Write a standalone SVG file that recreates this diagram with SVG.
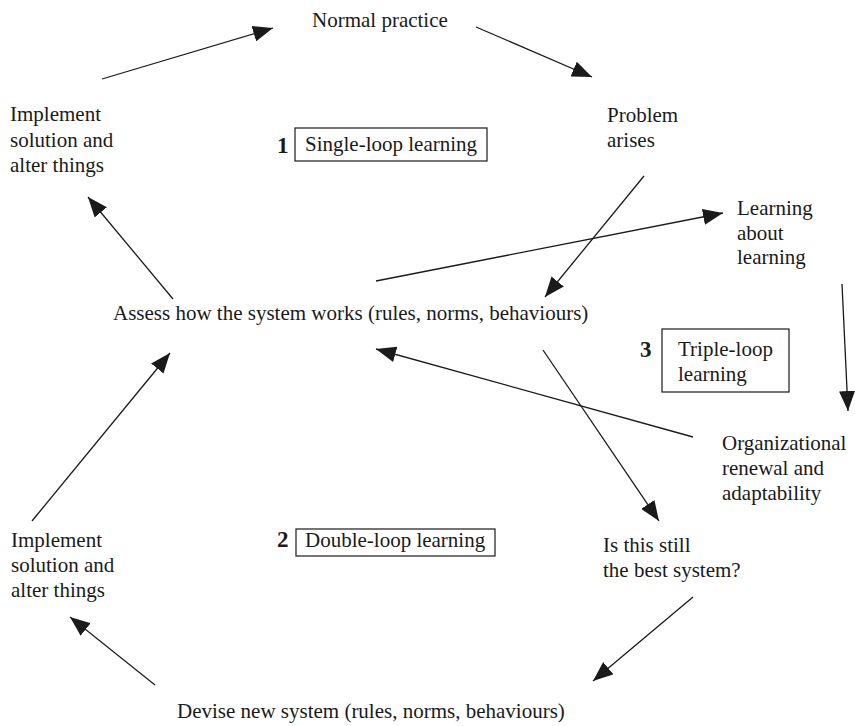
<svg xmlns="http://www.w3.org/2000/svg" width="855" height="726" viewBox="0 0 855 726">
<defs>
<marker id="ah" markerUnits="userSpaceOnUse" markerWidth="20" markerHeight="16" refX="20" refY="8" orient="auto">
<path d="M0,0 L20,8 L0,16 z" fill="#1a1a1a"/>
</marker>
<style>
text{font-family:"Liberation Serif","Times New Roman",serif;font-size:21px;fill:#1a1a1a}
.num{font-weight:bold;font-size:23px}
.box{fill:none;stroke:#1a1a1a;stroke-width:1.2}
.c line{stroke:#1a1a1a;stroke-width:1.3;marker-end:url(#ah)}
</style>
</defs>
<rect width="855" height="726" fill="#fff"/>
<g id="normal-practice"><text x="312" y="27">Normal practice</text></g>
<g id="implement-top"><text x="10" y="121">Implement</text><text x="10" y="147">solution and</text><text x="10" y="172">alter things</text></g>
<g id="single-loop"><text class="num" x="277" y="153">1</text><rect class="box" x="295" y="128" width="192" height="33"/><text x="305" y="151">Single-loop learning</text></g>
<g id="problem-arises"><text x="607" y="122">Problem</text><text x="607" y="147">arises</text></g>
<g id="learning-about"><text x="737" y="215">Learning</text><text x="737" y="240">about</text><text x="737" y="264">learning</text></g>
<g id="assess"><text x="113" y="320">Assess how the system works (rules, norms, behaviours)</text></g>
<g id="triple-loop"><text class="num" x="640" y="357">3</text><rect class="box" x="662" y="329" width="127" height="63"/><text x="678" y="356">Triple-loop</text><text x="678" y="381">learning</text></g>
<g id="organizational"><text x="722" y="450">Organizational</text><text x="722" y="475">renewal and</text><text x="722" y="500">adaptability</text></g>
<g id="implement-bottom"><text x="11" y="547">Implement</text><text x="11" y="572">solution and</text><text x="11" y="597">alter things</text></g>
<g id="double-loop"><text class="num" x="277" y="547">2</text><rect class="box" x="296" y="529" width="199" height="27"/><text x="305" y="547">Double-loop learning</text></g>
<g id="best-system"><text x="603" y="552">Is this still</text><text x="603" y="577">the best system?</text></g>
<g id="devise"><text x="177" y="718">Devise new system (rules, norms, behaviours)</text></g>
<g id="connectors" class="c">
<line x1="102" y1="79" x2="273" y2="28"/>
<line x1="476" y1="27" x2="592" y2="77"/>
<line x1="644" y1="176" x2="545" y2="297"/>
<line x1="376" y1="281" x2="723" y2="213"/>
<line x1="842" y1="284" x2="848" y2="411"/>
<line x1="693" y1="437" x2="376" y2="349"/>
<line x1="543" y1="350" x2="659" y2="521"/>
<line x1="693" y1="597" x2="593" y2="681"/>
<line x1="155" y1="685" x2="70" y2="617"/>
<line x1="32" y1="521" x2="170" y2="353"/>
<line x1="173" y1="299" x2="88" y2="197"/>
</g>
</svg>
